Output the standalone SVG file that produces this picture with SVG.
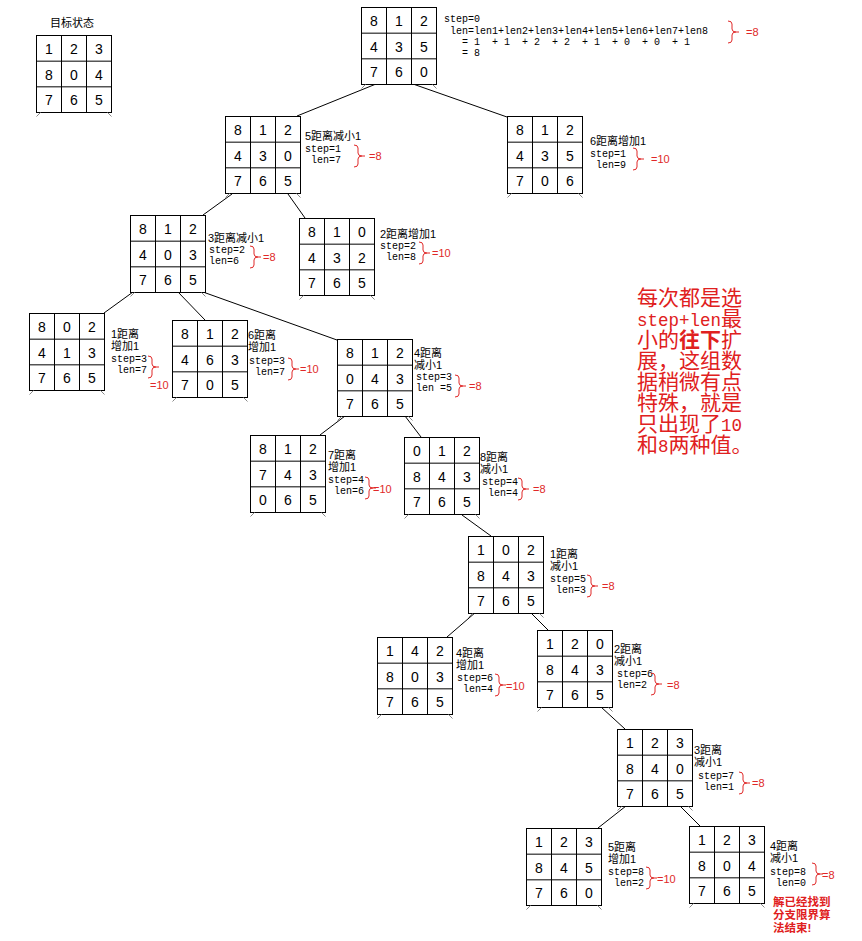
<svg xmlns="http://www.w3.org/2000/svg" xmlns:xlink="http://www.w3.org/1999/xlink" width="862" height="941" viewBox="0 0 862 941">
<style>
.g{fill:#fff;stroke:#000;stroke-width:1}
.n{font-family:"Liberation Sans",Arial,sans-serif;font-size:14px;fill:#000;text-anchor:middle}
.m{font-family:"Liberation Mono","Courier New",monospace;font-size:10px;fill:#000;white-space:pre}
.c{font-family:"Liberation Sans","Noto Sans CJK SC",sans-serif;font-size:11px;fill:#000}
.r{font-family:"Liberation Sans",Arial,sans-serif;font-size:11px;fill:#e02828}
.br{fill:none;stroke:#e02828;stroke-width:1}
.big{font-family:"Liberation Sans","Noto Sans CJK SC",sans-serif;font-size:21px;fill:#e02020}
.lat{font-family:"Liberation Mono",monospace;font-size:17.5px}
.fin{font-family:"Liberation Sans","Noto Sans CJK SC",sans-serif;font-size:11.5px;font-weight:bold;fill:#e02020}
.cn line{stroke:#000;stroke-width:1}
.tk{stroke:#888;stroke-width:1}
</style>
<defs>
<g id="grid"><rect class="g" x="0" y="0" width="75" height="77"/><path class="g" d="M25,0V77M50,0V77M0,25.67H75M0,51.33H75"/><path class="tk" d="M4,77L0,81M71,77L75,81"/></g>
<path id="br" class="br" d="M0,0Q4,0 4,3L4,8Q4,11 8,11Q4,11 4,14L4,19Q4,22 0,22M8,11L11,11"/>
</defs>

<g id="connectors" class="cn">
<line x1="376" y1="84" x2="297" y2="116"/>
<line x1="413" y1="84" x2="507" y2="117"/>
<line x1="232" y1="194" x2="203" y2="215"/>
<line x1="288" y1="194" x2="305" y2="218"/>
<line x1="133" y1="292" x2="104" y2="313"/>
<line x1="178" y1="292" x2="205" y2="320"/>
<line x1="203" y1="292" x2="337" y2="340"/>
<line x1="345" y1="416" x2="320" y2="435"/>
<line x1="405" y1="416" x2="421" y2="437"/>
<line x1="462" y1="515" x2="491" y2="536"/>
<line x1="476" y1="612" x2="447" y2="637"/>
<line x1="530" y1="612" x2="548" y2="630"/>
<line x1="601" y1="707" x2="625" y2="729"/>
<line x1="626" y1="806" x2="598" y2="828"/>
<line x1="680" y1="806" x2="700" y2="826"/>
</g>

<g id="goal">
<text class="c" x="50" y="27" font-size="12">目标状态</text>
<g transform="translate(36.5,35.5)"><use href="#grid"/>
<text class="n" x="12.5" y="18">1</text><text class="n" x="37.5" y="18">2</text><text class="n" x="62.5" y="18">3</text>
<text class="n" x="12.5" y="44">8</text><text class="n" x="37.5" y="44">0</text><text class="n" x="62.5" y="44">4</text>
<text class="n" x="12.5" y="69">7</text><text class="n" x="37.5" y="69">6</text><text class="n" x="62.5" y="69">5</text></g>
</g>

<g id="root">
<g transform="translate(361.5,7.5)"><use href="#grid"/>
<text class="n" x="12.5" y="18">8</text><text class="n" x="37.5" y="18">1</text><text class="n" x="62.5" y="18">2</text>
<text class="n" x="12.5" y="44">4</text><text class="n" x="37.5" y="44">3</text><text class="n" x="62.5" y="44">5</text>
<text class="n" x="12.5" y="69">7</text><text class="n" x="37.5" y="69">6</text><text class="n" x="62.5" y="69">0</text></g>
<text class="m" x="444" y="22">step=0</text>
<text class="m" x="444" y="34"> len=len1+len2+len3+len4+len5+len6+len7+len8</text>
<text class="m" x="444" y="45">   = 1  + 1  + 2  + 2  + 1  + 0  + 0  + 1</text>
<text class="m" x="444" y="56">   = 8</text>
<use href="#br" x="728" y="21"/><text class="r" x="746" y="36">=8</text>
</g>

<g id="nodeA">
<g transform="translate(225.5,116.5)"><use href="#grid"/>
<text class="n" x="12.5" y="18">8</text><text class="n" x="37.5" y="18">1</text><text class="n" x="62.5" y="18">2</text>
<text class="n" x="12.5" y="44">4</text><text class="n" x="37.5" y="44">3</text><text class="n" x="62.5" y="44">0</text>
<text class="n" x="12.5" y="69">7</text><text class="n" x="37.5" y="69">6</text><text class="n" x="62.5" y="69">5</text></g>
<text class="c" x="305" y="140">5距离减小1</text>
<text class="m" x="305" y="152">step=1</text>
<text class="m" x="305" y="163"> len=7</text>
<use href="#br" x="354" y="145"/><text class="r" x="369" y="160">=8</text>
</g>

<g id="nodeB">
<g transform="translate(507.5,116.5)"><use href="#grid"/>
<text class="n" x="12.5" y="18">8</text><text class="n" x="37.5" y="18">1</text><text class="n" x="62.5" y="18">2</text>
<text class="n" x="12.5" y="44">4</text><text class="n" x="37.5" y="44">3</text><text class="n" x="62.5" y="44">5</text>
<text class="n" x="12.5" y="69">7</text><text class="n" x="37.5" y="69">0</text><text class="n" x="62.5" y="69">6</text></g>
<text class="c" x="590" y="145">6距离增加1</text>
<text class="m" x="590" y="157">step=1</text>
<text class="m" x="590" y="168"> len=9</text>
<use href="#br" x="633" y="148"/><text class="r" x="651" y="163">=10</text>
</g>

<g id="nodeC">
<g transform="translate(130.5,215.5)"><use href="#grid"/>
<text class="n" x="12.5" y="18">8</text><text class="n" x="37.5" y="18">1</text><text class="n" x="62.5" y="18">2</text>
<text class="n" x="12.5" y="44">4</text><text class="n" x="37.5" y="44">0</text><text class="n" x="62.5" y="44">3</text>
<text class="n" x="12.5" y="69">7</text><text class="n" x="37.5" y="69">6</text><text class="n" x="62.5" y="69">5</text></g>
<text class="c" x="208" y="242">3距离减小1</text>
<text class="m" x="209" y="253">step=2</text>
<text class="m" x="209" y="264">len=6</text>
<use href="#br" x="250" y="246"/><text class="r" x="263" y="261">=8</text>
</g>

<g id="nodeD">
<g transform="translate(299.5,218.5)"><use href="#grid"/>
<text class="n" x="12.5" y="18">8</text><text class="n" x="37.5" y="18">1</text><text class="n" x="62.5" y="18">0</text>
<text class="n" x="12.5" y="44">4</text><text class="n" x="37.5" y="44">3</text><text class="n" x="62.5" y="44">2</text>
<text class="n" x="12.5" y="69">7</text><text class="n" x="37.5" y="69">6</text><text class="n" x="62.5" y="69">5</text></g>
<text class="c" x="380" y="238">2距离增加1</text>
<text class="m" x="380" y="249">step=2</text>
<text class="m" x="380" y="260"> len=8</text>
<use href="#br" x="419" y="242"/><text class="r" x="432" y="257">=10</text>
</g>

<g id="nodeE">
<g transform="translate(29.5,313.5)"><use href="#grid"/>
<text class="n" x="12.5" y="18">8</text><text class="n" x="37.5" y="18">0</text><text class="n" x="62.5" y="18">2</text>
<text class="n" x="12.5" y="44">4</text><text class="n" x="37.5" y="44">1</text><text class="n" x="62.5" y="44">3</text>
<text class="n" x="12.5" y="69">7</text><text class="n" x="37.5" y="69">6</text><text class="n" x="62.5" y="69">5</text></g>
<text class="c" x="111" y="338">1距离<tspan x="111" dy="12">增加1</tspan></text>
<text class="m" x="111" y="362">step=3</text>
<text class="m" x="111" y="373"> len=7</text>
<use href="#br" x="148" y="356"/><text class="r" x="150" y="389">=10</text>
</g>

<g id="nodeF">
<g transform="translate(172.5,320.5)"><use href="#grid"/>
<text class="n" x="12.5" y="18">8</text><text class="n" x="37.5" y="18">1</text><text class="n" x="62.5" y="18">2</text>
<text class="n" x="12.5" y="44">4</text><text class="n" x="37.5" y="44">6</text><text class="n" x="62.5" y="44">3</text>
<text class="n" x="12.5" y="69">7</text><text class="n" x="37.5" y="69">0</text><text class="n" x="62.5" y="69">5</text></g>
<text class="c" x="248" y="339">6距离<tspan x="248" dy="12">增加1</tspan></text>
<text class="m" x="249" y="364">step=3</text>
<text class="m" x="249" y="375"> len=7</text>
<use href="#br" x="288" y="358"/><text class="r" x="300" y="373">=10</text>
</g>

<g id="nodeG">
<g transform="translate(337.5,339.5)"><use href="#grid"/>
<text class="n" x="12.5" y="18">8</text><text class="n" x="37.5" y="18">1</text><text class="n" x="62.5" y="18">2</text>
<text class="n" x="12.5" y="44">0</text><text class="n" x="37.5" y="44">4</text><text class="n" x="62.5" y="44">3</text>
<text class="n" x="12.5" y="69">7</text><text class="n" x="37.5" y="69">6</text><text class="n" x="62.5" y="69">5</text></g>
<text class="c" x="414" y="357">4距离<tspan x="414" dy="12">减小1</tspan></text>
<text class="m" x="416" y="380">step=3</text>
<text class="m" x="416" y="391">len =5</text>
<use href="#br" x="455" y="375"/><text class="r" x="469" y="390">=8</text>
</g>

<g id="nodeH">
<g transform="translate(250.5,435.5)"><use href="#grid"/>
<text class="n" x="12.5" y="18">8</text><text class="n" x="37.5" y="18">1</text><text class="n" x="62.5" y="18">2</text>
<text class="n" x="12.5" y="44">7</text><text class="n" x="37.5" y="44">4</text><text class="n" x="62.5" y="44">3</text>
<text class="n" x="12.5" y="69">0</text><text class="n" x="37.5" y="69">6</text><text class="n" x="62.5" y="69">5</text></g>
<text class="c" x="328" y="459">7距离<tspan x="328" dy="12">增加1</tspan></text>
<text class="m" x="328" y="483">step=4</text>
<text class="m" x="328" y="494"> len=6</text>
<use href="#br" x="365" y="477"/><text class="r" x="373" y="493">=10</text>
</g>

<g id="nodeI">
<g transform="translate(404.5,437.5)"><use href="#grid"/>
<text class="n" x="12.5" y="18">0</text><text class="n" x="37.5" y="18">1</text><text class="n" x="62.5" y="18">2</text>
<text class="n" x="12.5" y="44">8</text><text class="n" x="37.5" y="44">4</text><text class="n" x="62.5" y="44">3</text>
<text class="n" x="12.5" y="69">7</text><text class="n" x="37.5" y="69">6</text><text class="n" x="62.5" y="69">5</text></g>
<text class="c" x="480" y="461">8距离<tspan x="480" dy="12">减小1</tspan></text>
<text class="m" x="482" y="485">step=4</text>
<text class="m" x="482" y="496"> len=4</text>
<use href="#br" x="518" y="478"/><text class="r" x="533" y="493">=8</text>
</g>

<g id="nodeJ">
<g transform="translate(468.5,536.5)"><use href="#grid"/>
<text class="n" x="12.5" y="18">1</text><text class="n" x="37.5" y="18">0</text><text class="n" x="62.5" y="18">2</text>
<text class="n" x="12.5" y="44">8</text><text class="n" x="37.5" y="44">4</text><text class="n" x="62.5" y="44">3</text>
<text class="n" x="12.5" y="69">7</text><text class="n" x="37.5" y="69">6</text><text class="n" x="62.5" y="69">5</text></g>
<text class="c" x="550" y="558">1距离<tspan x="550" dy="12">减小1</tspan></text>
<text class="m" x="550" y="582">step=5</text>
<text class="m" x="550" y="593"> len=3</text>
<use href="#br" x="587" y="575"/><text class="r" x="602" y="590">=8</text>
</g>

<g id="nodeK">
<g transform="translate(377.5,637.5)"><use href="#grid"/>
<text class="n" x="12.5" y="18">1</text><text class="n" x="37.5" y="18">4</text><text class="n" x="62.5" y="18">2</text>
<text class="n" x="12.5" y="44">8</text><text class="n" x="37.5" y="44">0</text><text class="n" x="62.5" y="44">3</text>
<text class="n" x="12.5" y="69">7</text><text class="n" x="37.5" y="69">6</text><text class="n" x="62.5" y="69">5</text></g>
<text class="c" x="456" y="657">4距离<tspan x="456" dy="12">增加1</tspan></text>
<text class="m" x="457" y="681">step=6</text>
<text class="m" x="457" y="692"> len=4</text>
<use href="#br" x="495" y="674"/><text class="r" x="506" y="690">=10</text>
</g>

<g id="nodeL">
<g transform="translate(537.5,630.5)"><use href="#grid"/>
<text class="n" x="12.5" y="18">1</text><text class="n" x="37.5" y="18">2</text><text class="n" x="62.5" y="18">0</text>
<text class="n" x="12.5" y="44">8</text><text class="n" x="37.5" y="44">4</text><text class="n" x="62.5" y="44">3</text>
<text class="n" x="12.5" y="69">7</text><text class="n" x="37.5" y="69">6</text><text class="n" x="62.5" y="69">5</text></g>
<text class="c" x="614" y="653">2距离<tspan x="614" dy="12">减小1</tspan></text>
<text class="m" x="617" y="677">step=6</text>
<text class="m" x="617" y="688">len=2</text>
<use href="#br" x="651" y="673"/><text class="r" x="667" y="689">=8</text>
</g>

<g id="nodeM">
<g transform="translate(617.5,729.5)"><use href="#grid"/>
<text class="n" x="12.5" y="18">1</text><text class="n" x="37.5" y="18">2</text><text class="n" x="62.5" y="18">3</text>
<text class="n" x="12.5" y="44">8</text><text class="n" x="37.5" y="44">4</text><text class="n" x="62.5" y="44">0</text>
<text class="n" x="12.5" y="69">7</text><text class="n" x="37.5" y="69">6</text><text class="n" x="62.5" y="69">5</text></g>
<text class="c" x="694" y="754">3距离<tspan x="694" dy="12">减小1</tspan></text>
<text class="m" x="698" y="779">step=7</text>
<text class="m" x="698" y="790"> len=1</text>
<use href="#br" x="739" y="772"/><text class="r" x="752" y="787">=8</text>
</g>

<g id="nodeN">
<g transform="translate(526.5,828.5)"><use href="#grid"/>
<text class="n" x="12.5" y="18">1</text><text class="n" x="37.5" y="18">2</text><text class="n" x="62.5" y="18">3</text>
<text class="n" x="12.5" y="44">8</text><text class="n" x="37.5" y="44">4</text><text class="n" x="62.5" y="44">5</text>
<text class="n" x="12.5" y="69">7</text><text class="n" x="37.5" y="69">6</text><text class="n" x="62.5" y="69">0</text></g>
<text class="c" x="608" y="851">5距离<tspan x="608" dy="12">增加1</tspan></text>
<text class="m" x="608" y="875">step=8</text>
<text class="m" x="608" y="886"> len=2</text>
<use href="#br" x="646" y="867"/><text class="r" x="657" y="883">=10</text>
</g>

<g id="nodeO">
<g transform="translate(689.5,826.5)"><use href="#grid"/>
<text class="n" x="12.5" y="18">1</text><text class="n" x="37.5" y="18">2</text><text class="n" x="62.5" y="18">3</text>
<text class="n" x="12.5" y="44">8</text><text class="n" x="37.5" y="44">0</text><text class="n" x="62.5" y="44">4</text>
<text class="n" x="12.5" y="69">7</text><text class="n" x="37.5" y="69">6</text><text class="n" x="62.5" y="69">5</text></g>
<text class="c" x="770" y="850">4距离<tspan x="770" dy="12">减小1</tspan></text>
<text class="m" x="770" y="875">step=8</text>
<text class="m" x="770" y="886"> len=0</text>
<use href="#br" x="812" y="863"/><text class="r" x="822" y="879">=8</text>
<text class="fin" x="773" y="906">解已经找到<tspan x="773" dy="13">分支限界算</tspan><tspan x="773" dy="13">法结束!</tspan></text>
</g>

<g id="note">
<text class="big" x="637" y="305">每次都是选<tspan x="637" dy="21"><tspan class="lat">step+len</tspan>最</tspan><tspan x="637" dy="21">小的<tspan font-weight="bold">往下</tspan>扩</tspan><tspan x="637" dy="21">展，这组数</tspan><tspan x="637" dy="21">据稍微有点</tspan><tspan x="637" dy="21">特殊，就是</tspan><tspan x="637" dy="21">只出现了<tspan class="lat">10</tspan></tspan><tspan x="637" dy="21">和<tspan class="lat">8</tspan>两种值。</tspan></text>
</g>
</svg>
